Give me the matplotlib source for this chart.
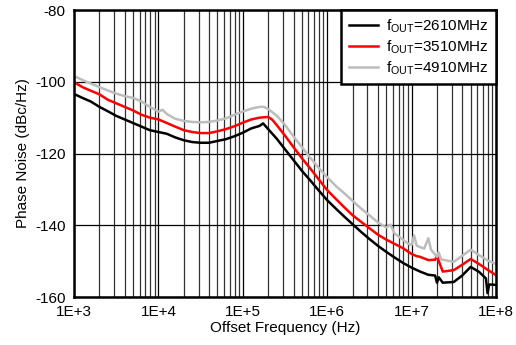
import matplotlib.pyplot as plt
import numpy as np

plt.rcParams['font.family'] = ['Liberation Sans', 'DejaVu Sans']
plt.rcParams['mathtext.fontset'] = 'custom'
plt.rcParams['mathtext.rm'] = 'Liberation Sans'
plt.rcParams['axes.unicode_minus'] = False

# offset frequency (Hz) and phase noise (dBc/Hz)
f_2610 = [1e3, 1.26e3, 1.58e3, 2e3, 2.51e3, 3.16e3, 3.98e3, 5.01e3, 6.31e3, 7.94e3,
          1e4, 1.26e4, 1.58e4, 2e4, 2.51e4, 3.16e4, 3.98e4, 5.01e4, 6.31e4, 7.94e4,
          1e5, 1.26e5, 1.58e5, 1.74e5, 2e5, 2.51e5, 3.16e5, 3.98e5, 5.01e5, 6.31e5, 7.94e5,
          1e6, 1.26e6, 1.58e6, 2e6, 2.51e6, 3.16e6, 3.98e6, 5.01e6, 6.31e6, 7.94e6,
          1e7, 1.26e7, 1.58e7, 1.9e7, 2e7, 2.1e7, 2.34e7, 3.16e7, 3.98e7, 5.01e7, 6.31e7,
          7.6e7, 7.94e7, 8.3e7, 1e8]
pn_2610 = [-103.4, -104.5, -105.5, -107.0, -108.2, -109.5, -110.5, -111.5, -112.5, -113.5,
           -114.0, -114.5, -115.5, -116.3, -116.8, -117.0, -117.0, -116.5, -116.0, -115.2,
           -114.2, -113.0, -112.3, -111.6, -113.2, -115.8, -118.8, -121.8, -124.8, -127.5, -130.3,
           -133.0, -135.3, -137.5, -139.7, -141.8, -143.8, -145.7, -147.4, -149.0, -150.5,
           -151.8, -152.9, -153.8, -154.0, -156.0, -154.5, -156.0, -155.8, -154.0, -151.6, -153.0,
           -154.8, -158.9, -156.5, -156.6]

f_3510 = [1e3, 1.26e3, 1.58e3, 2e3, 2.51e3, 3.16e3, 3.98e3, 5.01e3, 6.31e3, 7.94e3,
          1e4, 1.26e4, 1.58e4, 2e4, 2.51e4, 3.16e4, 3.98e4, 5.01e4, 6.31e4, 7.94e4,
          1e5, 1.26e5, 1.58e5, 2e5, 2.24e5, 2.51e5, 3.16e5, 3.98e5, 5.01e5, 6.31e5, 7.94e5,
          1e6, 1.26e6, 1.58e6, 2e6, 2.51e6, 3.16e6, 3.98e6, 5.01e6, 6.31e6, 7.94e6,
          1e7, 1.15e7, 1.26e7, 1.58e7, 1.9e7, 2e7, 2.14e7, 2.34e7, 3.16e7, 3.98e7, 5.01e7,
          6.31e7, 7.94e7, 1e8]
pn_3510 = [-100.1, -101.5, -102.5, -103.5, -105.0, -106.0, -107.0, -108.0, -109.2, -110.0,
           -110.5, -111.5, -112.5, -113.5, -114.0, -114.3, -114.3, -113.8, -113.2, -112.4,
           -111.4, -110.5, -110.0, -109.8, -110.6, -112.0, -115.0, -118.2, -121.3, -124.2, -127.2,
           -130.2, -132.6, -134.9, -137.2, -139.0, -140.8, -142.6, -144.0, -145.2, -146.4,
           -148.0, -148.6, -148.8, -149.7, -149.6, -148.5, -150.5, -152.9, -152.5, -151.0, -149.4,
           -150.8, -152.4, -153.9]

f_4910 = [1e3, 1.26e3, 1.58e3, 2e3, 2.51e3, 3.16e3, 3.98e3, 5.01e3, 6.31e3, 7.94e3,
          1e4, 1.12e4, 1.26e4, 1.58e4, 2e4, 2.51e4, 3.16e4, 3.98e4, 5.01e4, 6.31e4, 7.94e4,
          1e5, 1.26e5, 1.58e5, 1.78e5, 2e5, 2.51e5, 3.16e5, 3.98e5, 5.01e5, 6.31e5, 7.94e5,
          1e6, 1.26e6, 1.58e6, 2e6, 2.51e6, 3.16e6, 3.98e6, 5.01e6, 5.62e6, 6.31e6, 7.94e6,
          8.9e6, 1e7, 1.07e7, 1.15e7, 1.41e7, 1.58e7, 1.7e7, 2e7, 2.09e7, 2.24e7,
          3.16e7, 3.98e7, 5.01e7, 6.31e7, 7.94e7, 1e8]
pn_4910 = [-98.4, -99.5, -100.5, -101.5, -102.4, -103.3, -104.0, -104.5, -105.5, -107.0,
           -108.3, -107.8, -109.0, -110.3, -110.9, -111.2, -111.3, -111.2, -110.8, -110.2, -109.2,
           -108.3, -107.5, -107.0, -107.0, -107.6, -109.4, -112.0, -115.2, -118.2, -121.2, -124.0,
           -126.6, -129.0, -131.0, -133.2, -135.3, -137.2, -139.2, -140.6, -139.8, -142.3, -144.0,
           -145.0, -145.5, -142.8, -145.7, -146.5, -143.6, -146.8, -148.8, -147.5, -149.5,
           -150.2, -148.5, -146.8, -148.3, -149.8, -150.8]

labels = [r'f$_{\mathrm{OUT}}$=2610MHz', r'f$_{\mathrm{OUT}}$=3510MHz', r'f$_{\mathrm{OUT}}$=4910MHz']
colors = ['black', '#ff0000', '#bdbdbd']

fig = plt.figure(figsize=(5.16, 3.45), dpi=100)
ax = fig.add_axes([0.1434, 0.139, 0.8178, 0.832])

for f, pn, lab, c in zip([f_2610, f_3510, f_4910], [pn_2610, pn_3510, pn_4910], labels, colors):
    ax.plot(f, pn, color=c, lw=1.8, label=lab)

ax.set_xscale('log')
ax.set_xlim(1e3, 1e8)
ax.set_ylim(-160, -80)
ax.set_yticks([-160, -140, -120, -100, -80])
ax.set_xticks([1e3, 1e4, 1e5, 1e6, 1e7, 1e8])
ax.set_xticklabels(['1E+3', '1E+4', '1E+5', '1E+6', '1E+7', '1E+8'])
ax.tick_params(axis='both', which='both', length=0, labelsize=11, pad=6)
ax.grid(True, which='major', color='black', lw=0.9)
ax.grid(True, which='minor', axis='x', color='#333333', lw=0.9)
for s in ax.spines.values():
    s.set_linewidth(1.8)

ax.set_xlabel('Offset Frequency (Hz)', fontsize=11, labelpad=1)
ax.set_ylabel('Phase Noise (dBc/Hz)', fontsize=11, labelpad=4)

leg = ax.legend(loc='upper right', fontsize=11, frameon=True, fancybox=False,
                borderpad=0.5, labelspacing=0.2, handlelength=1.9, handletextpad=0.5,
                borderaxespad=0)
leg.get_frame().set_edgecolor('black')
leg.get_frame().set_linewidth(1.8)
leg.get_frame().set_alpha(1)

plt.savefig('out.png', dpi=100)
